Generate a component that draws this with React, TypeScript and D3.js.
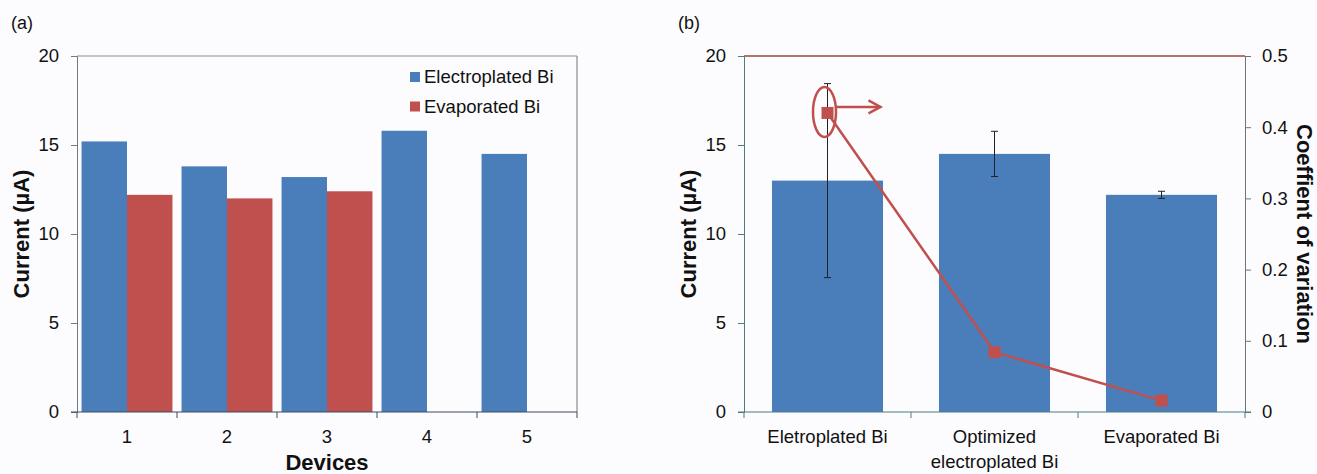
import { useEffect, useRef } from "react";
import * as d3 from "d3";

// panel (a)
const devices = ["1", "2", "3", "4", "5"];
const seriesNames = ["Electroplated Bi", "Evaporated Bi"];
const electroplated = [15.2, 13.8, 13.2, 15.8, 14.5];
const evaporated = [12.2, 12.0, 12.4, null, null];
const currentTicks = [0, 5, 10, 15, 20];

// panel (b)
const methods = ["Eletroplated Bi", "Optimized electroplated Bi", "Evaporated Bi"];
const methodLabels = [["Eletroplated Bi"], ["Optimized", "electroplated Bi"], ["Evaporated Bi"]];
const meanCurrent = [13.0, 14.5, 12.2];
const currentErr = [5.45, 1.27, 0.2];
const cv = [0.42, 0.084, 0.016];
const cvTicks = [0, 0.1, 0.2, 0.3, 0.4, 0.5];

const BLUE = "#4a7ebb";
const RED = "#c0504d";
const FONT = "'Liberation Sans', Arial, sans-serif";

function App() {
  const ref = useRef(null);

  useEffect(() => {
    const width = 1317;
    const height = 474;
    const svg = d3.select(ref.current);
    svg.selectAll("*").remove();
    svg.attr("width", width).attr("height", height).style("font-family", FONT);

    svg.append("rect").attr("width", width).attr("height", height).attr("fill", "#fcfcfe");

    const top = 56;
    const bottom = 412;
    const y = d3.scaleLinear().domain([0, 20]).range([bottom, top]);

    // ---------- panel (a) ----------
    const a = { left: 77, right: 577 };
    const x0 = d3.scaleBand().domain(devices).range([a.left, a.right]).padding(0);
    const x1 = d3.scaleBand().domain(seriesNames).range([0, x0.bandwidth()]).paddingInner(0).paddingOuter(0.1);

    const ga = svg.append("g");

    // frame
    ga.append("line").attr("x1", a.left).attr("x2", a.right).attr("y1", top).attr("y2", top)
      .attr("stroke", "#868c92").attr("stroke-width", 1.2);
    ga.append("line").attr("x1", a.right).attr("x2", a.right).attr("y1", top).attr("y2", bottom)
      .attr("stroke", "#868c92").attr("stroke-width", 1.2);

    const rows = devices.map((d, i) => ({ device: d, values: [electroplated[i], evaporated[i]] }));
    ga.selectAll("g.grp")
      .data(rows)
      .join("g")
      .attr("class", "grp")
      .attr("transform", d => `translate(${x0(d.device)},0)`)
      .selectAll("rect")
      .data(d => d.values.map((v, j) => ({ key: seriesNames[j], v })).filter(e => e.v != null))
      .join("rect")
      .attr("x", d => x1(d.key))
      .attr("y", d => y(d.v))
      .attr("width", x1.bandwidth())
      .attr("height", d => y(0) - y(d.v))
      .attr("fill", d => (d.key === seriesNames[0] ? BLUE : RED));

    // y axis
    const yAxisA = ga.append("g")
      .attr("transform", `translate(${a.left},0)`)
      .call(d3.axisLeft(y).tickValues(currentTicks).tickSize(6).tickPadding(12));
    yAxisA.select(".domain").attr("stroke", "#6f7a84");
    yAxisA.selectAll(".tick line").attr("stroke", "#6f7a84");
    yAxisA.selectAll("text").attr("font-size", 18.5).attr("font-family", FONT).attr("fill", "#111");

    // x axis (ticks at category boundaries)
    ga.append("line").attr("x1", a.left - 6).attr("x2", a.right).attr("y1", bottom).attr("y2", bottom)
      .attr("stroke", "#3d4b5c").attr("stroke-width", 1.2);
    const bounds = devices.map(d => x0(d)).concat([a.right]);
    ga.selectAll("line.xt").data(bounds).join("line").attr("class", "xt")
      .attr("x1", d => d).attr("x2", d => d).attr("y1", bottom).attr("y2", bottom + 6)
      .attr("stroke", "#3d4b5c");
    ga.selectAll("text.xl").data(devices).join("text").attr("class", "xl")
      .attr("x", d => x0(d) + x0.bandwidth() / 2)
      .attr("y", bottom + 31)
      .attr("text-anchor", "middle")
      .attr("font-size", 18.5)
      .attr("fill", "#111")
      .text(d => d);

    // legend
    const lg = ga.append("g").attr("transform", "translate(410,0)");
    seriesNames.forEach((s, i) => {
      const yy = 82 + i * 29.5;
      lg.append("rect").attr("x", 0).attr("y", yy - 10).attr("width", 10).attr("height", 10)
        .attr("fill", i === 0 ? BLUE : RED);
      lg.append("text").attr("x", 14).attr("y", yy + 1).attr("font-size", 18.5).attr("fill", "#111").text(s);
    });

    // titles
    ga.append("text")
      .attr("transform", `translate(29,${(top + bottom) / 2}) rotate(-90)`)
      .attr("text-anchor", "middle")
      .attr("font-size", 22).attr("font-weight", "bold").attr("fill", "#111")
      .text("Current (µA)");
    ga.append("text")
      .attr("x", (a.left + a.right) / 2).attr("y", 470)
      .attr("text-anchor", "middle")
      .attr("font-size", 22).attr("font-weight", "bold").attr("fill", "#111")
      .text("Devices");
    svg.append("text").attr("x", 11).attr("y", 29).attr("font-size", 18).attr("fill", "#111").text("(a)");

    // ---------- panel (b) ----------
    const b = { left: 744, right: 1245 };
    const xb = d3.scaleBand().domain(methods).range([b.left, b.right]).paddingInner(0.335).paddingOuter(0.1675);
    const xc = d3.scaleBand().domain(methods).range([b.left, b.right]).padding(0);
    const yr = d3.scaleLinear().domain([0, 0.5]).range([bottom, top]);
    const gb = svg.append("g");

    gb.append("line").attr("x1", b.left).attr("x2", b.right).attr("y1", top).attr("y2", top)
      .attr("stroke", "#9a4a38").attr("stroke-width", 1.3);

    gb.selectAll("rect.bar").data(methods).join("rect").attr("class", "bar")
      .attr("x", d => xb(d))
      .attr("y", (d, i) => y(meanCurrent[i]))
      .attr("width", xb.bandwidth())
      .attr("height", (d, i) => y(0) - y(meanCurrent[i]))
      .attr("fill", BLUE);

    // error bars
    const cx = d => xb(d) + xb.bandwidth() / 2;
    const eb = gb.selectAll("g.err").data(methods).join("g").attr("class", "err")
      .attr("stroke", "#222").attr("stroke-width", 1);
    eb.append("line").attr("x1", cx).attr("x2", cx)
      .attr("y1", (d, i) => y(meanCurrent[i] + currentErr[i]))
      .attr("y2", (d, i) => y(meanCurrent[i] - currentErr[i]));
    eb.append("line").attr("x1", d => cx(d) - 3.5).attr("x2", d => cx(d) + 3.5)
      .attr("y1", (d, i) => y(meanCurrent[i] + currentErr[i]))
      .attr("y2", (d, i) => y(meanCurrent[i] + currentErr[i]));
    eb.append("line").attr("x1", d => cx(d) - 3.5).attr("x2", d => cx(d) + 3.5)
      .attr("y1", (d, i) => y(meanCurrent[i] - currentErr[i]))
      .attr("y2", (d, i) => y(meanCurrent[i] - currentErr[i]));

    // CV line
    const line = d3.line().x(d => d[0]).y(d => d[1]);
    const pts = methods.map((m, i) => [cx(m), yr(cv[i])]);
    gb.append("path").attr("d", line(pts)).attr("fill", "none").attr("stroke", RED).attr("stroke-width", 2.5);
    gb.selectAll("rect.mk").data(pts).join("rect").attr("class", "mk")
      .attr("x", d => d[0] - 6).attr("y", d => d[1] - 6)
      .attr("width", 12).attr("height", 12).attr("fill", RED);

    // annotation: circled point + arrow to right axis
    const [px, py] = pts[0];
    gb.append("ellipse").attr("cx", px - 3).attr("cy", py - 1).attr("rx", 11.5).attr("ry", 25)
      .attr("fill", "none").attr("stroke", RED).attr("stroke-width", 2.5);
    gb.append("line").attr("x1", px + 8).attr("x2", px + 53).attr("y1", py - 6).attr("y2", py - 6)
      .attr("stroke", RED).attr("stroke-width", 2.5);
    gb.append("path")
      .attr("d", `M${px + 41},${py - 12.5}L${px + 53},${py - 6}L${px + 41},${py + 0.5}`)
      .attr("fill", "none").attr("stroke", RED).attr("stroke-width", 2.5);

    // axes
    const yAxisB = gb.append("g").attr("transform", `translate(${b.left},0)`)
      .call(d3.axisLeft(y).tickValues(currentTicks).tickSize(6).tickPadding(12));
    yAxisB.select(".domain").attr("stroke", "#4f7d7f");
    yAxisB.selectAll(".tick line").attr("stroke", "#4f7d7f");
    yAxisB.selectAll("text").attr("font-size", 18.5).attr("font-family", FONT).attr("fill", "#111");

    const yAxisR = gb.append("g").attr("transform", `translate(${b.right},0)`)
      .call(d3.axisRight(yr).tickValues(cvTicks).tickSize(6).tickPadding(11)
        .tickFormat(d => (d === 0 ? "0" : d3.format(".1f")(d))));
    yAxisR.select(".domain").attr("stroke", "#6d7478");
    yAxisR.selectAll(".tick line").attr("stroke", "#6d7478");
    yAxisR.selectAll("text").attr("font-size", 18.5).attr("font-family", FONT).attr("fill", "#111");

    gb.append("line").attr("x1", b.left - 6).attr("x2", b.right + 6).attr("y1", bottom).attr("y2", bottom)
      .attr("stroke", "#4f7d7f").attr("stroke-width", 1.2);
    const bb = methods.map(d => xc(d)).concat([b.right]);
    gb.selectAll("line.xt").data(bb).join("line").attr("class", "xt")
      .attr("x1", d => d).attr("x2", d => d).attr("y1", bottom).attr("y2", bottom + 6)
      .attr("stroke", "#4f7d7f");
    const xl = gb.selectAll("text.xl").data(methods).join("text").attr("class", "xl")
      .attr("text-anchor", "middle").attr("font-size", 18.5).attr("fill", "#111");
    xl.selectAll("tspan").data((d, i) => methodLabels[i].map(t => ({ t, m: d }))).join("tspan")
      .attr("x", d => cx(d.m))
      .attr("y", (d, j) => bottom + 31 + j * 25)
      .text(d => d.t);

    gb.append("text")
      .attr("transform", `translate(696,${(top + bottom) / 2}) rotate(-90)`)
      .attr("text-anchor", "middle")
      .attr("font-size", 22).attr("font-weight", "bold").attr("fill", "#111")
      .text("Current (µA)");
    gb.append("text")
      .attr("transform", `translate(1297,${(top + bottom) / 2}) rotate(90)`)
      .attr("text-anchor", "middle")
      .attr("font-size", 22).attr("font-weight", "bold").attr("fill", "#111")
      .text("Coeffient of variation");
    svg.append("text").attr("x", 678).attr("y", 29).attr("font-size", 18).attr("fill", "#111").text("(b)");
  }, []);

  return <svg ref={ref} style={{ position: "absolute", left: 0, top: 0 }}></svg>;
}

export default App;
